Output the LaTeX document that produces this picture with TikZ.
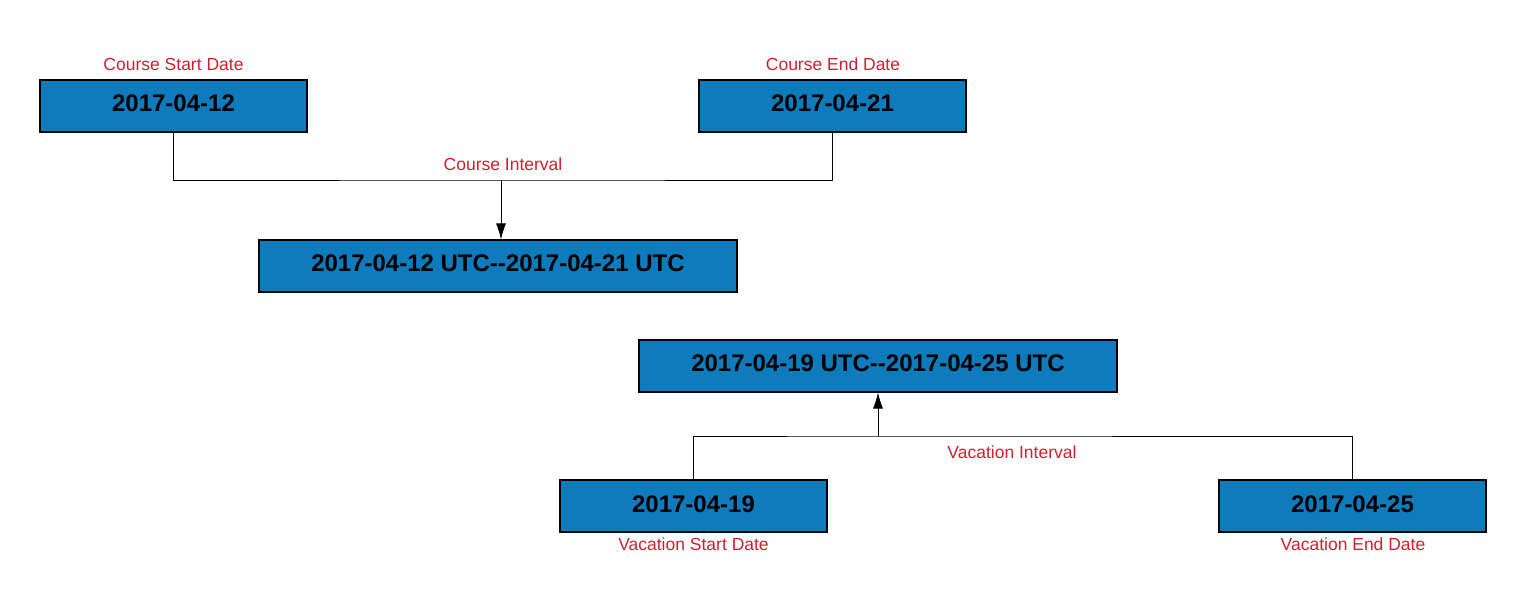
\documentclass[tikz,border=0pt]{standalone}
\usepackage{fontspec}
\setmainfont{Liberation Sans}
\usetikzlibrary{arrows.meta}
\definecolor{datefill}{RGB}{14,123,189}
\definecolor{labelred}{RGB}{206,32,46}

\begin{document}
\begin{tikzpicture}[x=1pt,y=-1pt,
  datebox/.style={draw=black,line width=1.1pt,fill=datefill,minimum width=267pt,minimum height=52pt,inner sep=0pt,text height=17pt,text depth=5pt,font=\bfseries\fontsize{24}{28}\selectfont},
  widebox/.style={datebox,minimum width=478pt},
  redlabel/.style={text=labelred,inner sep=0pt,font=\fontsize{17.5}{20}\selectfont},
  link/.style={line width=.8pt},
  arr/.style={link,-{Latex[length=16pt,width=10pt]}}]
\path[use as bounding box] (0,0) rectangle (1527,612);
% course dates
\node[datebox] (cstart) at (173.5,106) {2017-04-12};
\node[datebox] (cend) at (832.5,106) {2017-04-21};
\node[widebox] (cint) at (498,266) {2017-04-12 UTC-{}-2017-04-21 UTC};
\node[redlabel] (lcstart) at (173.5,64) {Course Start Date};
\node[redlabel] (lcend) at (833,64) {Course End Date};
\coordinate (cjoin) at (501,180);
\draw[link] (cstart.south) |- (cjoin) -| (cend.south);
\draw[arr] (cjoin) -- (cjoin |- cint.north);
\node[redlabel] (lcint) at (503,164) {Course Interval};
% vacation dates
\node[widebox] (vint) at (878,366) {2017-04-19 UTC-{}-2017-04-25 UTC};
\node[datebox] (vstart) at (693.5,506) {2017-04-19};
\node[datebox] (vend) at (1352.5,506) {2017-04-25};
\node[redlabel] (lvstart) at (693.5,544) {Vacation Start Date};
\node[redlabel] (lvend) at (1353,544) {Vacation End Date};
\coordinate (vjoin) at (878,436);
\draw[link] (vstart.north) |- (vjoin) -| (vend.north);
\draw[arr] (vjoin) -- (vint.south);
\node[redlabel] (lvint) at (1012,452) {Vacation Interval};
\end{tikzpicture}
\end{document}
